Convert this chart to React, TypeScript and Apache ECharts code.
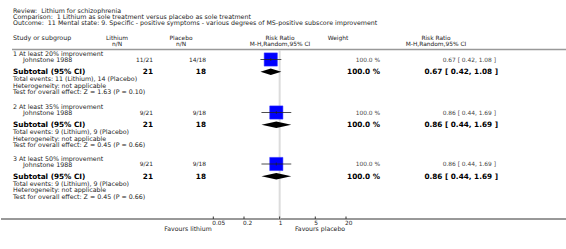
import React, { useEffect, useRef } from "react";
import * as echarts from "echarts";

// ---- data ----
const reviewTitle = "Review:  Lithium for schizophrenia";
const comparisonTitle = "Comparison:  1 Lithium as sole treatment versus placebo as sole treatment";
const outcomeTitle = "Outcome:  11 Mental state: 9. Specific - positive symptoms - various degrees of MS-positive subscore improvement";
const groupNames = ["1 At least 20% improvement", "2 At least 35% improvement", "3 At least 50% improvement"];
const studyNames = ["Johnstone 1988", "Johnstone 1988", "Johnstone 1988"];
const lithiumEvents = [11, 9, 9];
const lithiumTotals = [21, 21, 21];
const placeboEvents = [14, 9, 9];
const placeboTotals = [18, 18, 18];
const riskRatio = [0.67, 0.86, 0.86];
const ciLow = [0.42, 0.44, 0.44];
const ciHigh = [1.08, 1.69, 1.69];
const weights = [100, 100, 100];
const zValues = [1.63, 0.45, 0.45];
const pValues = [0.1, 0.66, 0.66];
const tickValues = [0.05, 0.2, 1, 5, 20];
const tickLabels = ["0.05", "0.2", "1", "5", "20"];

// ---- layout ----
const W = 566;
const H = 249;
const GROUP_Y = [53.5, 106.5, 158];
const FONT = '"DejaVu Sans", Verdana, sans-serif';
const SMALL = `6.3px ${FONT}`;
const SMALLR = `5.9px ${FONT}`;
const TICKF = `5.8px ${FONT}`;
const BOLD = `bold 7.3px ${FONT}`;
const TXT = "#222";
const AXIS_Y = 219;

function txt(text: string, x: number, y: number, font = SMALL, align = "left", fill = TXT) {
  return {
    type: "text",
    x,
    y,
    silent: true,
    style: { text, font, fill, textAlign: align, textVerticalAlign: "middle" },
  };
}

export default function App() {
  const ref = useRef<HTMLDivElement>(null);
  useEffect(() => {
    if (!ref.current) return;
    const chart = echarts.init(ref.current, null, { renderer: "svg", width: W, height: H });

    const graphics: any[] = [];
    graphics.push(txt(reviewTitle, 13, 10.8));
    graphics.push(txt(comparisonTitle, 13, 16.8));
    graphics.push(txt(outcomeTitle, 13, 22.8));
    // headers
    graphics.push(txt("Study or subgroup", 13, 37.5));
    graphics.push(txt("Lithium", 117, 37.5, SMALLR, "center"));
    graphics.push(txt("n/N", 117, 43.5, SMALLR, "center"));
    graphics.push(txt("Placebo", 181, 37.5, SMALLR, "center"));
    graphics.push(txt("n/N", 181, 43.5, SMALLR, "center"));
    graphics.push(txt("Risk Ratio", 280, 37.5, SMALLR, "center"));
    graphics.push(txt("M-H,Random,95% CI", 280, 43.5, SMALLR, "center"));
    graphics.push(txt("Weight", 338, 37.5, SMALLR, "center"));
    graphics.push(txt("Risk Ratio", 436, 37.5, SMALLR, "center"));
    graphics.push(txt("M-H,Random,95% CI", 436, 43.5, SMALLR, "center"));
    graphics.push({
      type: "line",
      silent: true,
      shape: { x1: 12, y1: 49.5, x2: W, y2: 49.5 },
      style: { stroke: "#999", lineWidth: 1.5 },
    });

    groupNames.forEach((g, i) => {
      const y0 = GROUP_Y[i];
      const rrTxt = `${riskRatio[i].toFixed(2)} [ ${ciLow[i].toFixed(2)}, ${ciHigh[i].toFixed(2)} ]`;
      graphics.push(txt(g, 13, y0));
      graphics.push(txt(studyNames[i], 23, y0 + 6));
      graphics.push(txt(`${lithiumEvents[i]}/${lithiumTotals[i]}`, 153, y0 + 6, SMALLR, "right"));
      graphics.push(txt(`${placeboEvents[i]}/${placeboTotals[i]}`, 206, y0 + 6, SMALLR, "right"));
      graphics.push(txt(`${weights[i].toFixed(1)} %`, 380, y0 + 6, SMALLR, "right", "#444"));
      graphics.push(txt(rrTxt, 496, y0 + 6, SMALLR, "right", "#444"));
      graphics.push(txt("Subtotal (95% CI)", 13, y0 + 18.3, BOLD, "left", "#000"));
      graphics.push(txt(`${lithiumTotals[i]}`, 153, y0 + 18.3, BOLD, "right", "#000"));
      graphics.push(txt(`${placeboTotals[i]}`, 206, y0 + 18.3, BOLD, "right", "#000"));
      graphics.push(txt(`${weights[i].toFixed(1)} %`, 380, y0 + 18.3, BOLD, "right", "#000"));
      graphics.push(txt(rrTxt, 498, y0 + 18.3, BOLD, "right", "#000"));
      graphics.push(txt(`Total events: ${lithiumEvents[i]} (Lithium), ${placeboEvents[i]} (Placebo)`, 13, y0 + 25));
      graphics.push(txt("Heterogeneity: not applicable", 13, y0 + 31.8));
      graphics.push(
        txt(`Test for overall effect: Z = ${zValues[i].toFixed(2)} (P = ${pValues[i].toFixed(2)})`, 13, y0 + 38.3)
      );
    });

    // axis baseline across the page
    graphics.push({
      type: "line",
      silent: true,
      shape: { x1: 1, y1: AXIS_Y, x2: W, y2: AXIS_Y },
      style: { stroke: "#333", lineWidth: 1 },
    });
    graphics.push(txt("Favours lithium", 188, 228.3, `6.2px ${FONT}`, "center"));
    graphics.push(txt("Favours placebo", 320, 228.3, `6.2px ${FONT}`, "center"));

    const studyData = riskRatio.map((r, i) => [r, GROUP_Y[i] + 6, ciLow[i], ciHigh[i]]);
    const pooledData = riskRatio.map((r, i) => [r, GROUP_Y[i] + 18.3, ciLow[i], ciHigh[i]]);
    const tickData = tickValues.map((v, i) => [v, AXIS_Y, tickLabels[i]]);

    chart.setOption({
      animation: false,
      grid: { left: 213.3, right: W - 346, top: 0, bottom: 0 },
      xAxis: { type: "log", logBase: 10, min: 0.05, max: 20, show: false },
      yAxis: { type: "value", min: 0, max: H, inverse: true, show: false },
      graphic: graphics,
      series: [
        {
          type: "custom",
          name: "line of no effect",
          data: [[1, 50]],
          z: 1,
          renderItem: (params: any, api: any) => {
            const top = api.coord([api.value(0), api.value(1)]);
            const bot = api.coord([api.value(0), AXIS_Y]);
            return {
              type: "line",
              shape: { x1: top[0], y1: top[1], x2: bot[0], y2: bot[1] },
              style: { stroke: "#dcdcdc", lineWidth: 2 },
            };
          },
        },
        {
          type: "custom",
          name: "studies",
          data: studyData,
          z: 3,
          renderItem: (params: any, api: any) => {
            const c = api.coord([api.value(0), api.value(1)]);
            const l = api.coord([api.value(2), api.value(1)]);
            const h = api.coord([api.value(3), api.value(1)]);
            const s = 6.6;
            return {
              type: "group",
              children: [
                {
                  type: "rect",
                  shape: { x: c[0] - s, y: c[1] - s, width: 2 * s, height: 2 * s },
                  style: { fill: "#0000ff", stroke: "#3030ff", lineWidth: 0.5 },
                },
                {
                  type: "line",
                  shape: { x1: l[0], y1: c[1], x2: h[0], y2: c[1] },
                  style: { stroke: "#222", lineWidth: 0.8 },
                },
                {
                  type: "line",
                  shape: { x1: c[0], y1: c[1] - 1.5, x2: c[0], y2: c[1] + 1.5 },
                  style: { stroke: "#222", lineWidth: 0.8 },
                },
              ],
            };
          },
        },
        {
          type: "custom",
          name: "subtotals",
          data: pooledData,
          z: 3,
          renderItem: (params: any, api: any) => {
            const c = api.coord([api.value(0), api.value(1)]);
            const l = api.coord([api.value(2), api.value(1)]);
            const h = api.coord([api.value(3), api.value(1)]);
            const d = 3.2;
            return {
              type: "polygon",
              shape: {
                points: [
                  [l[0], c[1]],
                  [c[0], c[1] - d],
                  [h[0], c[1]],
                  [c[0], c[1] + d],
                ],
              },
              style: { fill: "#000" },
            };
          },
        },
        {
          type: "custom",
          name: "ticks",
          data: tickData,
          z: 3,
          renderItem: (params: any, api: any) => {
            const p = api.coord([api.value(0), api.value(1)]);
            return {
              type: "group",
              children: [
                {
                  type: "line",
                  shape: { x1: p[0], y1: p[1] - 2.5, x2: p[0], y2: p[1] },
                  style: { stroke: "#333", lineWidth: 1 },
                },
                {
                  type: "text",
                  x: p[0] - 1,
                  y: p[1] + 4.3,
                  style: {
                    text: tickLabels[params.dataIndex],
                    font: TICKF,
                    fill: TXT,
                    textAlign: "left",
                    textVerticalAlign: "middle",
                  },
                },
              ],
            };
          },
        },
      ],
    });
    return () => chart.dispose();
  }, []);
  return (
    <div
      ref={ref}
      style={{ position: "fixed", left: 0, top: 0, width: W, height: H, background: "#fff" }}
    />
  );
}
